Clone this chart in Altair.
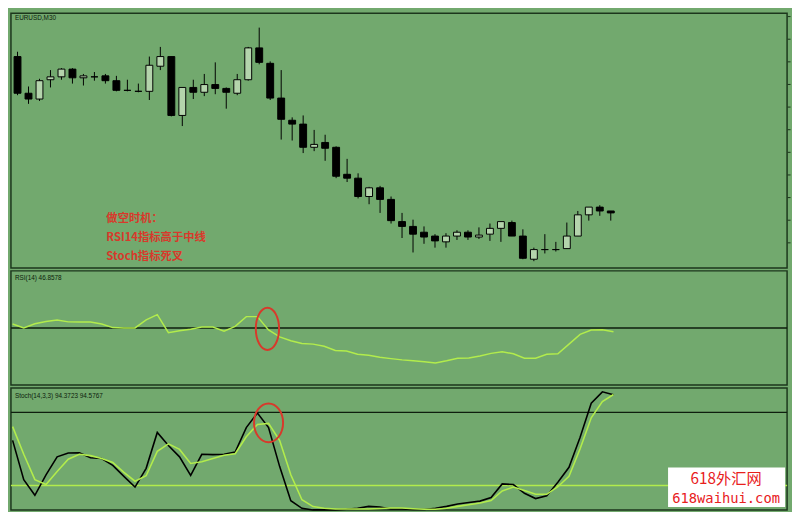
import altair as alt
import pandas as pd
import numpy as np

# ---------------- data ----------------
idx = list(range(55))
opens = [219,181,175,195,198,206,197,198,199,194,184,183,183,209,219,158,187,182,190,186,
         181,195,228,212,176,153,149,125,130,125,97,93,74,83,71,48,43,37,33,27,
         33,37,32,35,41,47,33,9,19,19,20,33,55,63,59]
highs = [224,188,196,205,207,207,201,203,201,199,195,191,219,229,219,187,195,201,213,187,
         201,229,249,214,205,156,158,143,138,126,113,98,84,85,74,57,50,43,35,36,
         39,39,42,46,48,49,40,21,35,27,47,59,63,65,59]
lows = [179,170,173,187,195,191,189,194,191,183,183,182,174,205,157,147,175,178,180,165,
        179,194,211,174,133,132,119,121,111,93,89,72,66,57,46,31,16,25,21,21,
        29,29,30,28,27,33,9,7,15,17,20,33,49,54,49]
closes = [181,175,194,198,206,197,199,198,194,184,184,183,210,219,158,187,182,190,186,182,
          195,228,213,176,154,149,125,128,124,95,93,74,83,71,49,43,35,32,28,33,
          37,32,34,41,48,33,10,19,19,19,33,55,63,59,57]
price_ticks = [26, 49.5, 73, 96.5, 120, 143.5, 167, 190.5, 214, 237.5, 261]

rsi_vals = [53.4,50.0,53.6,55.7,57.0,55.3,55.1,55.1,53.4,50.3,50.0,50.0,57.0,61.6,45.8,47.5,48.9,50.8,50.8,47.2,
            51.4,59.9,59.9,48.3,42.1,38.7,36.4,35.8,33.9,30.3,29.7,26.9,26.0,24.3,23.1,22.0,21.2,20.3,19.2,21.2,
            23.5,23.7,25.4,27.7,29.1,27.4,23.5,23.5,26.9,27.4,35.8,44.3,48.1,48.3,46.6]
rsi_level = [50]

stoch_k = [57.0,24.8,12.0,28.8,43.5,46.7,46.9,42.7,42.1,36.5,27.5,18.7,34.1,63.5,52.8,43.5,28.3,45.6,45.3,45.6,
           47.5,67.5,79.5,67.5,35.5,7.5,1.3,0.0,0.0,0.0,0.5,1.3,2.9,2.4,0.8,0.8,0.3,0.3,1.3,2.9,
           4.8,6.1,7.2,10.1,21.3,20.8,13.6,9.3,11.5,22.7,34.9,59.5,87.5,96.8,94.4]
stoch_d = [68.3,45.6,24.8,20.8,31.5,41.6,45.6,44.5,42.1,38.9,30.7,23.5,28.0,48.0,54.1,49.6,38.1,39.5,42.1,44.8,
           46.1,60.0,70.1,70.9,56.8,28.8,8.3,2.7,1.3,0.8,0.8,0.8,0.8,1.2,1.5,1.5,1.0,0.6,0.6,1.3,
           2.9,4.3,5.6,7.7,15.5,18.7,16.0,12.8,12.8,19.0,27.5,50.1,75.5,88.8,94.6]
stoch_levels_hi = [80]
stoch_levels_lo = [20]

# annotation ellipses (candle index, indicator value)
rsi_mark = {"i": [22.9], "v": [49.2]}
stoch_mark = {"i": [23.0], "v": [71.4]}

main_title = "EURUSD,M30"
rsi_title = "RSI(14) 46.8578"
stoch_title = "Stoch(14,3,3) 94.3723 94.5767"
note_lines = ["做空时机：", "RSI14指标高于中线", "Stoch指标死叉"]
wm_lines = ["618外汇网", "618waihui.com"]

# ---------------- styles ----------------
BG = "#72a96e"
BORDER = "#1c361c"
UP = "#b4d4ac"
LIME = "#b2ec4c"
RED = "#d8392b"
W = 789
H1, H2, H3 = 259, 116, 124

xscale = alt.Scale(domain=[-0.15, 69.6], nice=False, zero=False)
xenc = alt.X("i:Q", scale=xscale, axis=None)

# ---------------- main price panel ----------------
df = pd.DataFrame(dict(i=idx, o=opens, h=highs, l=lows, c=closes))
df["dir"] = np.where(df.c > df.o, "up", "down")
ysc = alt.Scale(domain=[0, 264], nice=False, zero=False)
yaxis = alt.Axis(orient="right", values=price_ticks, labels=False, domain=False, grid=False,
                 ticks=True, tickSize=3, tickColor=BORDER, title=None)

base = alt.Chart(df)
wicks = base.mark_rule(color="black", strokeWidth=1, clip=True).encode(
    x=xenc, y=alt.Y("l:Q", scale=ysc, axis=yaxis), y2="h:Q")
bodies = base.mark_bar(size=7, stroke="black", strokeWidth=1, clip=True).encode(
    x=xenc, y=alt.Y("o:Q", scale=ysc, axis=yaxis), y2="c:Q",
    color=alt.Color("dir:N", scale=alt.Scale(domain=["up", "down"], range=[UP, "#000000"]), legend=None))

t_main = alt.Chart(pd.DataFrame({"t": [main_title]})).mark_text(
    align="left", baseline="top", font="Liberation Sans", fontSize=6.5, color="#0c1c0c").encode(
    x=alt.value(4), y=alt.value(2), text="t:N")
t_note = alt.Chart(pd.DataFrame({"t": ["\n".join(note_lines)]})).mark_text(
    align="left", baseline="top", font="Noto Sans CJK SC", fontSize=11.5, fontWeight="bold",
    color=RED, lineBreak="\n", lineHeight=19.7).encode(
    x=alt.value(97), y=alt.value(203), text="t:N")

main = alt.layer(wicks, bodies, t_main, t_note).properties(width=W, height=H1)

# ---------------- RSI panel ----------------
rsc = alt.Scale(domain=[0, 100], nice=False)
rdf = pd.DataFrame(dict(i=idx, rsi=rsi_vals))
r_level = alt.Chart(pd.DataFrame({"lv": rsi_level})).mark_rule(color="#0e1e0e", strokeWidth=1.6).encode(
    y=alt.Y("lv:Q", scale=rsc, axis=None))
r_line = alt.Chart(rdf).mark_line(color=LIME, strokeWidth=1.5).encode(
    x=xenc, y=alt.Y("rsi:Q", scale=rsc, axis=None))
ELL1 = "M0,-1C0.304,-1,0.55,-0.552,0.55,0C0.55,0.552,0.304,1,0,1C-0.304,1,-0.55,0.552,-0.55,0C-0.55,-0.552,-0.304,-1,0,-1Z"
r_ell = alt.Chart(pd.DataFrame(rsi_mark)).mark_point(
    shape=ELL1, size=1850, filled=False, stroke=RED, strokeWidth=2, opacity=1).encode(
    x=xenc, y=alt.Y("v:Q", scale=rsc, axis=None))
t_rsi = alt.Chart(pd.DataFrame({"t": [rsi_title]})).mark_text(
    align="left", baseline="top", font="Liberation Sans", fontSize=6.5, color="#0c1c0c").encode(
    x=alt.value(4), y=alt.value(4), text="t:N")
rsi = alt.layer(r_level, r_line, r_ell, t_rsi).properties(width=W, height=H2)

# ---------------- Stochastic panel ----------------
ssc = alt.Scale(domain=[0, 100], nice=False)
sdf = pd.DataFrame(dict(i=idx, k=stoch_k, d=stoch_d))
s_hi = alt.Chart(pd.DataFrame({"lv": stoch_levels_hi})).mark_rule(color="#0e1e0e", strokeWidth=1.2).encode(
    y=alt.Y("lv:Q", scale=ssc, axis=None))
s_lo = alt.Chart(pd.DataFrame({"lv": stoch_levels_lo})).mark_rule(color=LIME, strokeWidth=1.5).encode(
    y=alt.Y("lv:Q", scale=ssc, axis=None))
s_k = alt.Chart(sdf).mark_line(color="#000000", strokeWidth=1.6).encode(
    x=xenc, y=alt.Y("k:Q", scale=ssc, axis=None))
s_d = alt.Chart(sdf).mark_line(color=LIME, strokeWidth=1.6).encode(
    x=xenc, y=alt.Y("d:Q", scale=ssc, axis=None))
ELL2 = "M0,-1C0.414,-1,0.75,-0.552,0.75,0C0.75,0.552,0.414,1,0,1C-0.414,1,-0.75,0.552,-0.75,0C-0.75,-0.552,-0.414,-1,0,-1Z"
s_ell = alt.Chart(pd.DataFrame(stoch_mark)).mark_point(
    shape=ELL2, size=1552, filled=False, stroke=RED, strokeWidth=2, opacity=1).encode(
    x=xenc, y=alt.Y("v:Q", scale=ssc, axis=None))
t_st = alt.Chart(pd.DataFrame({"t": [stoch_title]})).mark_text(
    align="left", baseline="top", font="Liberation Sans", fontSize=6.5, color="#0c1c0c").encode(
    x=alt.value(4), y=alt.value(5), text="t:N")
wm_box = alt.Chart(pd.DataFrame({"a": [0]})).mark_rect(fill="white").encode(
    x=alt.value(668), x2=alt.value(787), y=alt.value(81), y2=alt.value(121))
wm1 = alt.Chart(pd.DataFrame({"t": [wm_lines[0]]})).mark_text(
    align="center", baseline="middle", font="Noto Sans CJK SC", fontSize=15.5, color="#e8201c").encode(
    x=alt.value(727), y=alt.value(93), text="t:N")
wm2 = alt.Chart(pd.DataFrame({"t": [wm_lines[1]]})).mark_text(
    align="center", baseline="middle", font="DejaVu Sans Mono", fontSize=14, color="#e8201c").encode(
    x=alt.value(727), y=alt.value(112.5), text="t:N")
stoch = alt.layer(s_hi, s_lo, s_k, s_d, s_ell, t_st, wm_box, wm1, wm2).properties(width=W, height=H3)

chart = alt.vconcat(main, rsi, stoch, spacing=1).properties(
    background=BG, padding=0
).configure_view(stroke=BORDER, strokeWidth=1.5)

chart.save("out.html", embed_options={"renderer": "svg", "actions": False})
